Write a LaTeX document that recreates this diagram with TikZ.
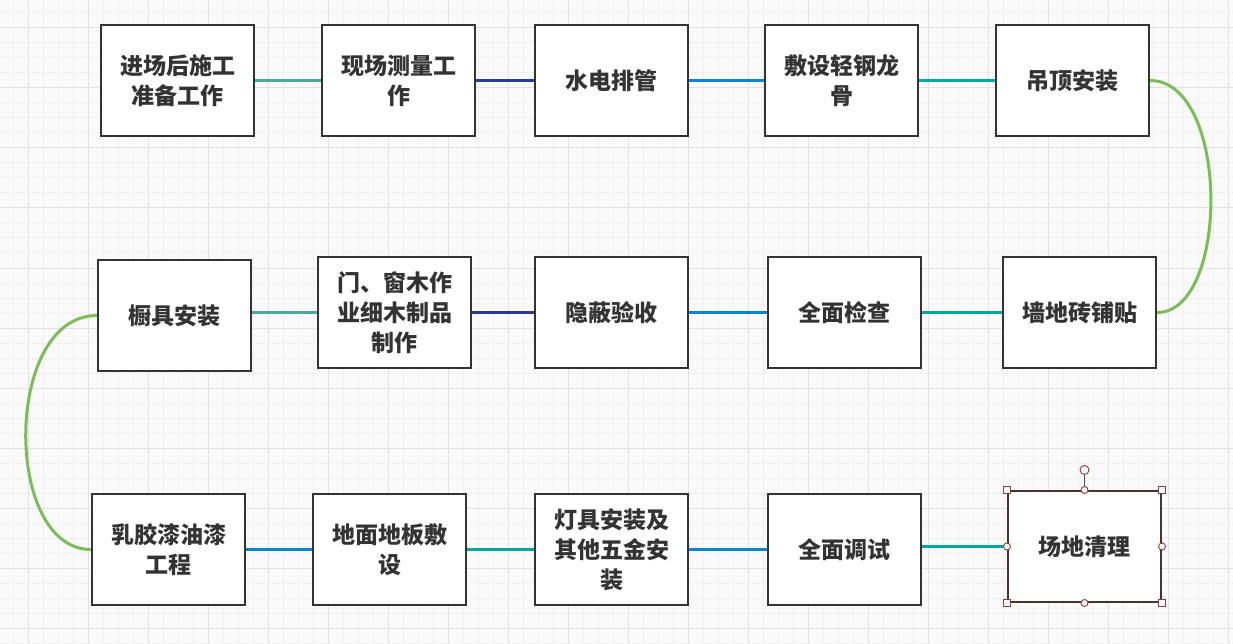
\documentclass[tikz,border=0pt]{standalone}
\usepackage{fontspec}
\usetikzlibrary{calc}
\newfontfamily\cjk{Noto Sans CJK SC}
\definecolor{txt}{HTML}{333333}
\definecolor{tealA}{HTML}{4AA99A}
\definecolor{navy}{HTML}{2B3990}
\definecolor{blueC}{HTML}{0A86D0}
\definecolor{tealB}{HTML}{00A99D}
\definecolor{greenC}{HTML}{7CBD5A}
\definecolor{gridminor}{HTML}{F0F0F0}
\definecolor{gridmajor}{HTML}{E2E2E2}
\definecolor{selred}{HTML}{8E3B3B}
\definecolor{selbox}{HTML}{4A3232}
\tikzset{
  stepbox/.style={draw=txt, line width=2pt, fill=white, minimum width=153pt, minimum height=111pt,
    inner sep=0pt, align=center, text=txt, font=\cjk\bfseries\fontsize{23}{30}\selectfont},
  conn/.style={line width=3pt},
  handle/.style={draw=selred, fill=white, line width=0.9pt},
}
\begin{document}
\begin{tikzpicture}[x=1pt,y=-1pt]
\useasboundingbox (0,0) rectangle (1233,644);
\fill[white!98!black] (0,0) rectangle (1233,644);
\foreach \i in {0,...,82} {
  \draw[gridminor, line width=1pt] ({13+15*\i},0) -- ({13+15*\i},644);
}
\foreach \i in {0,...,42} {
  \draw[gridminor, line width=1pt] (0,{13+15*\i}) -- (1233,{13+15*\i});
}
\foreach \i in {0,...,20} {
  \draw[gridmajor, line width=1pt] ({28+60*\i},0) -- ({28+60*\i},644);
}
\foreach \i in {0,...,10} {
  \draw[gridmajor, line width=1pt] (0,{28+60*\i}) -- (1233,{28+60*\i});
}
% row 1
\node[stepbox] (b1) at (177.5,80.5) {进场后施工\\准备工作};
\node[stepbox] (b2) at (398.5,80.5) {现场测量工\\作};
\node[stepbox] (b3) at (611.5,80.5) {水电排管};
\node[stepbox] (b4) at (841.5,80.5) {敷设轻钢龙\\骨};
\node[stepbox] (b5) at (1072.5,80.5) {吊顶安装};
% row 2
\node[stepbox] (b6) at (174.5,315.5) {橱具安装};
\node[stepbox] (b7) at (394.5,312.5) {门、窗木作\\业细木制品\\制作};
\node[stepbox] (b8) at (611.5,312.5) {隐蔽验收};
\node[stepbox] (b9) at (844.5,312.5) {全面检查};
\node[stepbox] (b10) at (1079.5,312.5) {墙地砖铺贴};
% row 3
\node[stepbox] (b11) at (168.5,549.5) {乳胶漆油漆\\工程};
\node[stepbox] (b12) at (389.5,549.5) {地面地板敷\\设};
\node[stepbox] (b13) at (611.5,549.5) {灯具安装及\\其他五金安\\装};
\node[stepbox] (b14) at (844.5,549.5) {全面调试};
\node[stepbox, draw=selbox] (b15) at (1084.5,546.5) {场地清理};
% connectors
\draw[conn, tealA] (b1.east) -- (b2.west);
\draw[conn, navy] (b2.east) -- (b3.west);
\draw[conn, blueC] (b3.east) -- (b4.west);
\draw[conn, tealB] (b4.east) -- (b5.west);
\draw[conn, greenC] (b5.east) .. controls (1230,80.5) and (1230,312.5) .. (b10.east);
\draw[conn, tealB] (b10.west) -- (b9.east);
\draw[conn, blueC] (b9.west) -- (b8.east);
\draw[conn, navy] (b8.west) -- (b7.east);
\draw[conn, tealA] (b7.west) -- (b7.west -| b6.east);
\draw[conn, greenC] (b6.west) .. controls (3,315.5) and (3,549.5) .. (b11.west);
\draw[conn, blueC] (b11.east) -- (b12.west);
\draw[conn, tealB] (b12.east) -- (b13.west);
\draw[conn, blueC] (b13.east) -- (b14.west);
\draw[conn, tealB] (b15.west) -- (b15.west -| b14.east);
% selection handles
\coordinate (rot) at ($(b15.north)+(0,-20)$);
\draw[selred, line width=0.9pt] (b15.north) -- (rot);
\draw[handle] (rot) circle (4.5pt);
\foreach \a in {north west, north east, south west, south east} {
  \draw[handle] ($(b15.\a)+(-3.5,-3.5)$) rectangle ($(b15.\a)+(3.5,3.5)$);
}
\foreach \a in {north, south, east, west} {
  \draw[handle] (b15.\a) circle (3.5pt);
}
\end{tikzpicture}
\end{document}
